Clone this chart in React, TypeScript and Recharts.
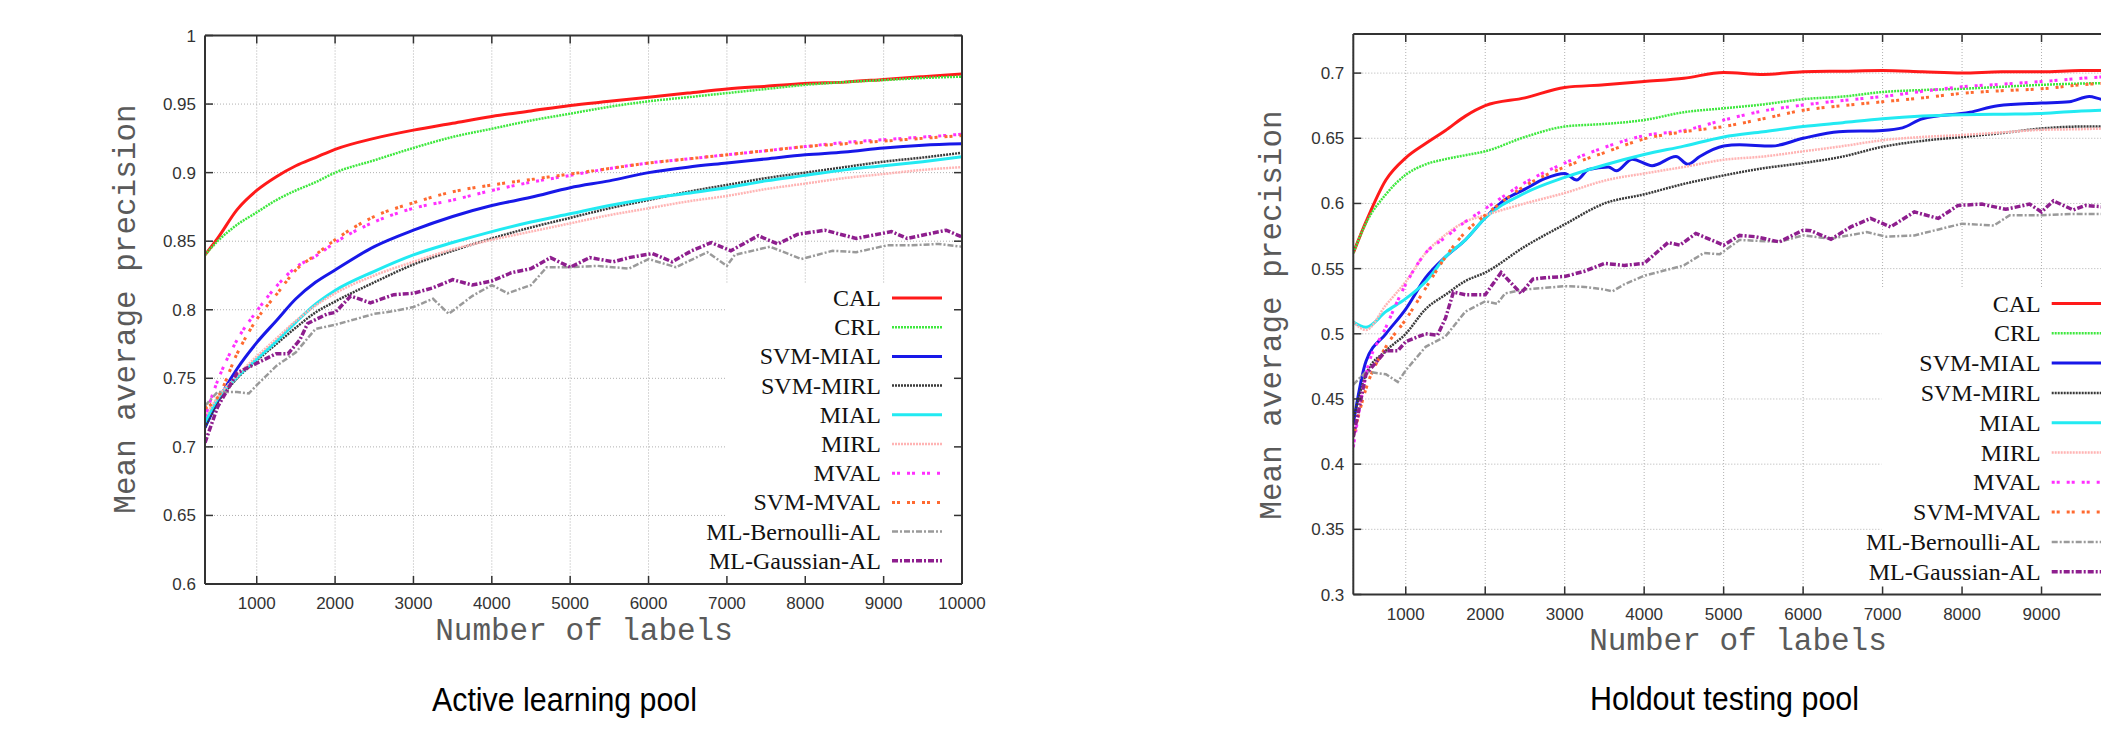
import React from "react";
import { LineChart, Line, XAxis, YAxis, CartesianGrid, ReferenceArea } from "recharts";

// x positions shared by the smooth curves (number of labels)
const xsSmooth = [340, 500, 750, 1000, 1250, 1500, 1750, 2000, 2500, 3000, 3500, 4000, 4500, 5000, 5500, 6000, 6500, 7000, 7500, 8000, 8500, 9000, 9500, 10000];

const xTicks = [1000, 2000, 3000, 4000, 5000, 6000, 7000, 8000, 9000, 10000];
const alYTicks = [0.6, 0.65, 0.7, 0.75, 0.8, 0.85, 0.9, 0.95, 1];
const hoYTicks = [0.3, 0.35, 0.4, 0.45, 0.5, 0.55, 0.6, 0.65, 0.7];

const seriesNames = ["CAL", "CRL", "SVM-MIAL", "SVM-MIRL", "MIAL", "MIRL", "MVAL", "SVM-MVAL", "ML-Bernoulli-AL", "ML-Gaussian-AL"];

// Active learning pool
const alCAL = [0.840, 0.852, 0.873, 0.887, 0.897, 0.905, 0.911, 0.917, 0.925, 0.931, 0.936, 0.941, 0.945, 0.949, 0.952, 0.955, 0.958, 0.961, 0.963, 0.965, 0.966, 0.968, 0.970, 0.972];
const alCRL = [0.840, 0.850, 0.862, 0.871, 0.880, 0.887, 0.893, 0.900, 0.909, 0.918, 0.926, 0.932, 0.938, 0.943, 0.948, 0.952, 0.955, 0.958, 0.961, 0.964, 0.966, 0.9675, 0.969, 0.970];
const alSvmMial = [0.714, 0.733, 0.757, 0.776, 0.792, 0.808, 0.820, 0.829, 0.846, 0.858, 0.868, 0.876, 0.882, 0.889, 0.894, 0.900, 0.904, 0.907, 0.910, 0.913, 0.915, 0.918, 0.920, 0.921];
const alSvmMirl = [0.714, 0.732, 0.750, 0.763, 0.775, 0.787, 0.798, 0.806, 0.820, 0.833, 0.843, 0.852, 0.860, 0.867, 0.874, 0.880, 0.886, 0.891, 0.896, 0.900, 0.904, 0.908, 0.911, 0.9145];
const alMIAL = [0.718, 0.735, 0.751, 0.764, 0.777, 0.791, 0.804, 0.814, 0.828, 0.840, 0.849, 0.857, 0.864, 0.870, 0.876, 0.881, 0.885, 0.889, 0.894, 0.898, 0.902, 0.905, 0.908, 0.9115];
const alMIRL = [0.722, 0.736, 0.752, 0.766, 0.779, 0.792, 0.803, 0.812, 0.825, 0.835, 0.844, 0.851, 0.857, 0.863, 0.869, 0.874, 0.879, 0.883, 0.888, 0.892, 0.896, 0.899, 0.902, 0.904];
const alMVAL = [0.722, 0.748, 0.778, 0.799, 0.817, 0.831, 0.839, 0.849, 0.864, 0.874, 0.880, 0.887, 0.893, 0.898, 0.903, 0.907, 0.910, 0.913, 0.916, 0.919, 0.922, 0.924, 0.926, 0.928];
const alSvmMval = [0.728, 0.736, 0.768, 0.793, 0.811, 0.829, 0.840, 0.851, 0.868, 0.878, 0.886, 0.891, 0.895, 0.899, 0.903, 0.907, 0.910, 0.913, 0.916, 0.919, 0.921, 0.923, 0.925, 0.927];
const alBernX = [340, 500, 750, 900, 1000, 1250, 1500, 1750, 2000, 2250, 2500, 2750, 3000, 3250, 3450, 3750, 4000, 4200, 4500, 4700, 5000, 5350, 5750, 6000, 6350, 6750, 7000, 7100, 7550, 7950, 8350, 8650, 9050, 9350, 9700, 10000];
const alBernY = [0.730, 0.740, 0.740, 0.739, 0.745, 0.759, 0.769, 0.786, 0.789, 0.793, 0.797, 0.799, 0.802, 0.808, 0.797, 0.810, 0.818, 0.812, 0.818, 0.831, 0.831, 0.832, 0.830, 0.837, 0.831, 0.842, 0.832, 0.840, 0.846, 0.837, 0.843, 0.842, 0.847, 0.847, 0.848, 0.846];
const alGaussX = [340, 500, 750, 1000, 1250, 1400, 1550, 1650, 1900, 2000, 2200, 2450, 2750, 3000, 3250, 3500, 3750, 4000, 4250, 4500, 4750, 5000, 5250, 5550, 5750, 6050, 6300, 6550, 6800, 7050, 7400, 7650, 7900, 8250, 8650, 9100, 9300, 9550, 9800, 10000];
const alGaussY = [0.703, 0.729, 0.754, 0.761, 0.768, 0.768, 0.778, 0.790, 0.797, 0.798, 0.810, 0.805, 0.811, 0.812, 0.816, 0.822, 0.818, 0.821, 0.827, 0.830, 0.838, 0.831, 0.838, 0.835, 0.838, 0.841, 0.835, 0.843, 0.849, 0.843, 0.854, 0.848, 0.855, 0.858, 0.852, 0.857, 0.852, 0.855, 0.858, 0.853];

// Holdout testing pool
const hoCAL = [0.562, 0.586, 0.618, 0.635, 0.646, 0.656, 0.667, 0.675, 0.681, 0.689, 0.691, 0.6935, 0.696, 0.7005, 0.699, 0.701, 0.7015, 0.702, 0.701, 0.700, 0.701, 0.701, 0.702, 0.702];
const hoCRL = [0.562, 0.585, 0.607, 0.622, 0.630, 0.634, 0.637, 0.640, 0.651, 0.659, 0.661, 0.664, 0.670, 0.673, 0.676, 0.680, 0.682, 0.6855, 0.687, 0.688, 0.6895, 0.691, 0.692, 0.6925];
const hoSvmMialX = [340, 500, 750, 1000, 1250, 1500, 1750, 2000, 2250, 2500, 2750, 3000, 3150, 3300, 3550, 3650, 3850, 4100, 4400, 4550, 4700, 5000, 5200, 5600, 6000, 6450, 7000, 7250, 7500, 8100, 8450, 9000, 9350, 9600, 9750, 10000];
const hoSvmMialY = [0.431, 0.479, 0.500, 0.519, 0.543, 0.559, 0.572, 0.589, 0.603, 0.611, 0.619, 0.623, 0.618, 0.626, 0.628, 0.625, 0.634, 0.629, 0.636, 0.630, 0.636, 0.644, 0.645, 0.644, 0.650, 0.655, 0.656, 0.658, 0.665, 0.670, 0.675, 0.677, 0.678, 0.682, 0.680, 0.679];
const hoSvmMirl = [0.434, 0.469, 0.487, 0.500, 0.519, 0.530, 0.5405, 0.547, 0.567, 0.584, 0.600, 0.607, 0.615, 0.6215, 0.627, 0.631, 0.636, 0.6435, 0.648, 0.651, 0.654, 0.6575, 0.659, 0.659];
const hoMIAL = [0.509, 0.505, 0.517, 0.527, 0.540, 0.559, 0.572, 0.589, 0.608, 0.620, 0.6295, 0.6375, 0.644, 0.651, 0.655, 0.659, 0.662, 0.665, 0.667, 0.668, 0.6685, 0.669, 0.671, 0.672];
const hoMIRL = [0.509, 0.503, 0.522, 0.540, 0.562, 0.576, 0.586, 0.591, 0.600, 0.608, 0.6175, 0.623, 0.628, 0.6335, 0.636, 0.640, 0.644, 0.6485, 0.651, 0.6525, 0.6545, 0.6565, 0.657, 0.658];
const hoMVAL = [0.413, 0.469, 0.505, 0.538, 0.562, 0.574, 0.586, 0.596, 0.616, 0.631, 0.643, 0.652, 0.656, 0.664, 0.671, 0.6755, 0.679, 0.682, 0.686, 0.6895, 0.6915, 0.6935, 0.696, 0.698];
const hoSvmMval = [0.421, 0.458, 0.490, 0.511, 0.535, 0.559, 0.578, 0.591, 0.6135, 0.628, 0.639, 0.6495, 0.655, 0.659, 0.665, 0.6715, 0.675, 0.678, 0.681, 0.6845, 0.6865, 0.688, 0.691, 0.693];
const hoBernX = [340, 500, 750, 900, 1000, 1250, 1500, 1750, 2000, 2150, 2250, 2500, 3000, 3250, 3500, 3600, 3750, 4000, 4250, 4500, 4750, 4950, 5200, 5700, 6000, 6350, 6800, 7050, 7400, 8000, 8400, 8600, 9000, 9400, 9700, 10000];
const hoBernY = [0.461, 0.471, 0.469, 0.463, 0.472, 0.490, 0.498, 0.517, 0.525, 0.523, 0.531, 0.534, 0.5365, 0.536, 0.534, 0.5325, 0.538, 0.5445, 0.5485, 0.5525, 0.562, 0.561, 0.572, 0.5705, 0.5755, 0.573, 0.578, 0.5745, 0.5755, 0.5845, 0.583, 0.591, 0.591, 0.592, 0.592, 0.592];
const hoGaussX = [340, 500, 750, 900, 1000, 1250, 1400, 1500, 1600, 1750, 2000, 2200, 2450, 2600, 2750, 3000, 3250, 3500, 3750, 4000, 4300, 4450, 4650, 5000, 5200, 5400, 5700, 6000, 6100, 6350, 6600, 6850, 7100, 7400, 7700, 7950, 8250, 8550, 8850, 9000, 9150, 9400, 9550, 9750, 10000];
const hoGaussY = [0.421, 0.469, 0.487, 0.487, 0.494, 0.500, 0.499, 0.512, 0.532, 0.530, 0.530, 0.547, 0.531, 0.542, 0.543, 0.544, 0.548, 0.554, 0.5525, 0.554, 0.570, 0.568, 0.577, 0.568, 0.5755, 0.5745, 0.5705, 0.5795, 0.579, 0.5725, 0.582, 0.5885, 0.582, 0.5935, 0.5885, 0.5985, 0.5995, 0.5955, 0.5995, 0.5935, 0.602, 0.595, 0.5985, 0.5975, 0.598];

const zip = (xs: number[], ys: number[]) => xs.map((x, i) => ({ x, y: ys[i] }));

// gnuplot-like line styles, in legend order
const lineStyles: { stroke: string; width: number; dash?: string; smooth: boolean }[] = [
  { stroke: "#ff1a1a", width: 3, smooth: true },
  { stroke: "#3fe83f", width: 2.5, dash: "2 1", smooth: true },
  { stroke: "#1818e8", width: 3, smooth: true },
  { stroke: "#3a3a3a", width: 2.5, dash: "2 1", smooth: true },
  { stroke: "#22eaf2", width: 3, smooth: true },
  { stroke: "#ffb4b4", width: 2.5, dash: "2 1", smooth: true },
  { stroke: "#ff30ff", width: 3, dash: "3 2 3 7", smooth: true },
  { stroke: "#ff6a30", width: 3, dash: "3 2 3 7", smooth: true },
  { stroke: "#9a9a9a", width: 2.5, dash: "6 2 2 2", smooth: false },
  { stroke: "#8e1e8e", width: 3.5, dash: "6 2 2 2", smooth: false },
];

const alSeries = [
  zip(xsSmooth, alCAL), zip(xsSmooth, alCRL), zip(xsSmooth, alSvmMial), zip(xsSmooth, alSvmMirl),
  zip(xsSmooth, alMIAL), zip(xsSmooth, alMIRL), zip(xsSmooth, alMVAL), zip(xsSmooth, alSvmMval),
  zip(alBernX, alBernY), zip(alGaussX, alGaussY),
];
const hoSeries = [
  zip(xsSmooth, hoCAL), zip(xsSmooth, hoCRL), zip(hoSvmMialX, hoSvmMialY), zip(xsSmooth, hoSvmMirl),
  zip(xsSmooth, hoMIAL), zip(xsSmooth, hoMIRL), zip(xsSmooth, hoMVAL), zip(xsSmooth, hoSvmMval),
  zip(hoBernX, hoBernY), zip(hoGaussX, hoGaussY),
];

const AXIS = "#333";
const TICK_FONT = "'Liberation Sans', Arial, Helvetica, sans-serif";
const MONO = "'Liberation Mono', 'Courier New', monospace";
const SERIF = "'Liberation Serif', 'Times New Roman', serif";
const NARROW = "'Liberation Sans Narrow', 'Arial Narrow', 'Liberation Sans', sans-serif";

// bottom tick: inward mark + label; labels that would fall past the page edge are skipped
const makeBottomTick = (visibleWidth: number) => (p: any) => (
  <g>
    <line x1={p.x} x2={p.x} y1={p.y} y2={p.y - 8} stroke={AXIS} strokeWidth={1.5} />
    {p.x + 24 <= visibleWidth && (
      <text x={p.x} y={p.y + 25} textAnchor="middle" fontSize={17} fontFamily={TICK_FONT} fill="#333">
        {String(p.payload.value)}
      </text>
    )}
  </g>
);
const topTick = (p: any) => <line x1={p.x} x2={p.x} y1={p.y} y2={p.y + 8} stroke={AXIS} strokeWidth={1.5} />;
const leftTick = (p: any) => (
  <g>
    <line x1={p.x} x2={p.x + 8} y1={p.y} y2={p.y} stroke={AXIS} strokeWidth={1.5} />
    <text x={p.x - 9} y={p.y + 6} textAnchor="end" fontSize={17} fontFamily={TICK_FONT} fill="#333">
      {String(p.payload.value)}
    </text>
  </g>
);
const rightTick = (p: any) => <line x1={p.x} x2={p.x - 8} y1={p.y} y2={p.y} stroke={AXIS} strokeWidth={1.5} />;

type PanelCfg = {
  left: number;
  width: number;
  visibleWidth: number;
  plot: { top: number; right: number; bottom: number; left: number };
  yDomain: [number, number];
  yTicks: number[];
  box: { x1: number; y2: number };
  legend: { textRight: number; sx1: number; sx2: number; y0: number; step: number };
  yLabel: { x: number; y: number };
  xLabel: { x: number; y: number };
  caption: { text: string; x: number; y: number; len: number };
};

// plot = distance of the plot frame from the panel edges
const alCfg: PanelCfg = {
  left: 0,
  width: 1000,
  visibleWidth: 1000,
  plot: { top: 35.5, right: 38, bottom: 145, left: 205 },
  yDomain: [0.6, 1],
  yTicks: alYTicks,
  box: { x1: 6980, y2: 0.8188 },
  legend: { textRight: 881, sx1: 892, sx2: 942, y0: 298, step: 29.2 },
  yLabel: { x: 126, y: 309 },
  xLabel: { x: 584, y: 640 },
  caption: { text: "Active learning pool", x: 564.5, y: 711, len: 265 },
};

const hoCfg: PanelCfg = {
  left: 1000,
  width: 1200,
  visibleWidth: 1101,
  plot: { top: 34, right: 79, bottom: 134.5, left: 353.3 },
  yDomain: [0.3, 0.73],
  yTicks: hoYTicks,
  box: { x1: 6985, y2: 0.535 },
  legend: { textRight: 1040.7, sx1: 1051.7, sx2: 1101.7, y0: 303.5, step: 29.8 },
  yLabel: { x: 272, y: 315 },
  xLabel: { x: 738, y: 650 },
  caption: { text: "Holdout testing pool", x: 724.5, y: 710, len: 269 },
};

function Panel({ cfg, series }: { cfg: PanelCfg; series: { x: number; y: number }[][] }) {
  const lg = cfg.legend;
  const p = cfg.plot;
  // every axis is 1px deep, so the margin is one pixel smaller
  const margin = { top: p.top - 1, right: p.right - 1, bottom: p.bottom - 1, left: p.left - 1 };
  const axisLine = { stroke: AXIS, strokeWidth: 2 };
  return (
    <div style={{ position: "absolute", left: cfg.left, top: 0, width: cfg.width, height: 729 }}>
      <LineChart width={cfg.width} height={729} margin={margin}>
        <CartesianGrid stroke="#b0b0b0" strokeDasharray="1 2" />
        <ReferenceArea x1={cfg.box.x1} x2={10000} y1={cfg.yDomain[0]} y2={cfg.box.y2} fill="#fff" fillOpacity={1} stroke="none" ifOverflow="hidden" />
        {series.map((d, i) => {
          const st = lineStyles[i];
          return (
            <Line
              key={seriesNames[i]}
              data={d}
              dataKey="y"
              name={seriesNames[i]}
              type={st.smooth ? "monotone" : "linear"}
              stroke={st.stroke}
              strokeWidth={st.width}
              strokeDasharray={st.dash}
              dot={false}
              activeDot={false}
              isAnimationActive={false}
            />
          );
        })}
        <XAxis xAxisId={0} dataKey="x" type="number" domain={[340, 10000]} allowDataOverflow ticks={xTicks} interval={0}
          height={1} tickSize={0} tickMargin={0} tickLine={false} axisLine={axisLine} tick={makeBottomTick(cfg.visibleWidth)} />
        <XAxis xAxisId="top" orientation="top" dataKey="x" type="number" domain={[340, 10000]} allowDataOverflow ticks={xTicks} interval={0}
          height={1} tickSize={0} tickMargin={0} tickLine={false} axisLine={axisLine} tick={topTick} />
        <YAxis yAxisId={0} type="number" domain={cfg.yDomain} allowDataOverflow ticks={cfg.yTicks} interval={0}
          width={1} tickSize={0} tickMargin={0} tickLine={false} axisLine={axisLine} tick={leftTick} />
        <YAxis yAxisId="right" orientation="right" type="number" domain={cfg.yDomain} allowDataOverflow ticks={cfg.yTicks} interval={0}
          width={1} tickSize={0} tickMargin={0} tickLine={false} axisLine={axisLine} tick={rightTick} />
      </LineChart>
      <svg width={cfg.width} height={729} style={{ position: "absolute", left: 0, top: 0, pointerEvents: "none", overflow: "visible" }}>
        <text x={cfg.yLabel.x} y={cfg.yLabel.y} transform={`rotate(-90 ${cfg.yLabel.x} ${cfg.yLabel.y})`} textAnchor="middle"
          dominantBaseline="central" fontFamily={MONO} fontSize={31} fill="#5a5a5a">
          Mean average precision
        </text>
        <text x={cfg.xLabel.x} y={cfg.xLabel.y} textAnchor="middle" fontFamily={MONO} fontSize={31} fill="#5a5a5a">
          Number of labels
        </text>
        <text x={cfg.caption.x} y={cfg.caption.y} textAnchor="middle" fontFamily={NARROW} fontSize={34} fill="#000"
          textLength={cfg.caption.len} lengthAdjust="spacingAndGlyphs">
          {cfg.caption.text}
        </text>
        {seriesNames.map((name, i) => {
          const y = lg.y0 + i * lg.step;
          const st = lineStyles[i];
          return (
            <g key={name}>
              <text x={lg.textRight} y={y + 8} textAnchor="end" fontFamily={SERIF} fontSize={24} fill="#111">
                {name}
              </text>
              <line x1={lg.sx1} x2={lg.sx2} y1={y} y2={y} stroke={st.stroke} strokeWidth={st.width} strokeDasharray={st.dash} />
            </g>
          );
        })}
      </svg>
    </div>
  );
}

export default function App() {
  return (
    <div style={{ position: "fixed", left: 0, top: 0, width: 2101, height: 729, overflow: "hidden", background: "#fff" }}>
      <Panel cfg={alCfg} series={alSeries} />
      <Panel cfg={hoCfg} series={hoSeries} />
    </div>
  );
}
